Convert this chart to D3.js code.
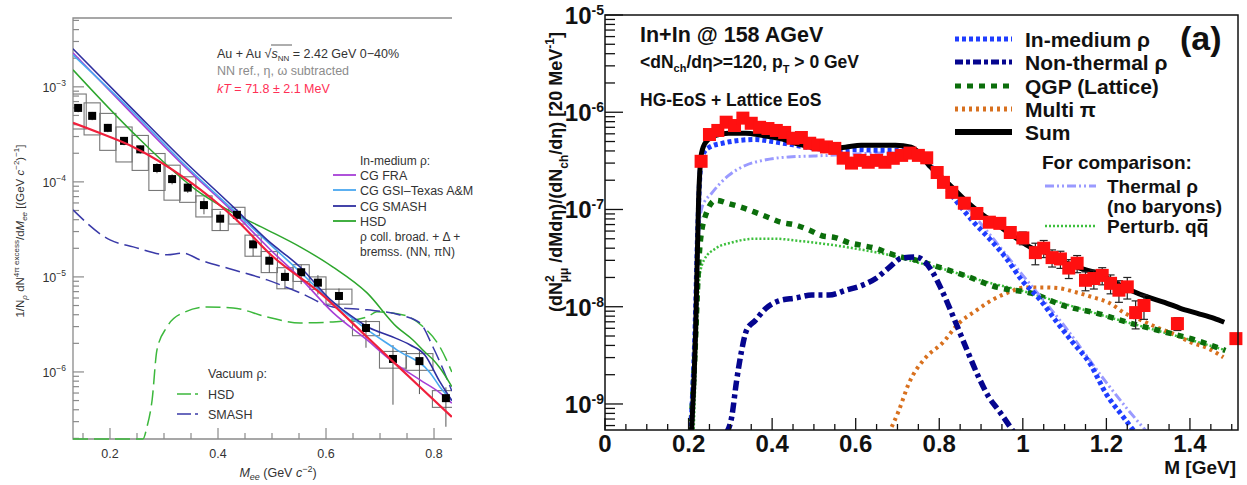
<!DOCTYPE html>
<html><head><meta charset="utf-8">
<script src="https://cdn.jsdelivr.net/npm/d3@7"></script>
<style>body{margin:0;background:#fff}svg{display:block}text{font-family:"Liberation Sans",Arial,sans-serif}</style>
</head><body>
<svg id="c" width="1247" height="485"></svg>
<script>
// ================= LEFT PANEL DATA (HADES Au+Au) =================
const leftPtsM   = [0.141,0.167,0.196,0.226,0.256,0.287,0.315,0.344,0.374,0.404,0.435,0.465,0.495,0.524,0.554,0.585,0.624,0.674,0.724,0.773,0.822];
const leftPtsY   = [6.0e-4,4.95e-4,3.7e-4,2.7e-4,2.2e-4,1.4e-4,1.07e-4,8.7e-5,5.7e-5,4.1e-5,4.5e-5,2.2e-5,1.48e-5,1.0e-5,1.12e-5,8.7e-6,6.3e-6,2.9e-6,1.37e-6,1.3e-6,5.3e-7];
const leftSysRel = [0.4,0.37,0.42,0.4,0.4,0.42,0.4,0.3,0.25,0.25,0.2,0.25,0.25,0.25,0.2,0.15,0.18,0.17,0.2,0.2,0.2];
const leftBinHW  = [0.015,0.015,0.015,0.015,0.015,0.015,0.015,0.015,0.015,0.015,0.015,0.015,0.015,0.015,0.015,0.015,0.024,0.025,0.025,0.025,0.025];
const leftStatUp = [0.1,0.1,0.1,0.1,0.1,0.12,0.12,0.12,0.2,0.2,0.15,0.2,0.18,0.2,0.2,0.2,0.2,0.21,0.4,0.27,0.3];
const leftStatDn = [0.1,0.1,0.1,0.1,0.1,0.12,0.12,0.12,0.2,0.25,0.15,0.25,0.25,0.25,0.25,0.25,0.25,0.38,0.67,0.55,0.5];

const fitM   = [0.1315,0.18,0.243,0.343,0.428,0.502,0.589,0.676,0.774,0.833];
const fitY   = [4.18e-4,3.28e-4,2.33e-4,1.05e-4,4.29e-5,1.63e-5,6.79e-6,2.33e-6,6.95e-7,3.36e-7];
const fraM   = [0.1315,0.243,0.335,0.428,0.4975,0.552,0.6135,0.676,0.719,0.774,0.811,0.833];
const fraY   = [2.28e-3,5.07e-4,1.51e-4,4.83e-5,1.92e-5,9.77e-6,4.18e-6,2.17e-6,1.34e-6,8.24e-7,6.03e-7,4.7e-7];
const gsiM   = [0.1315,0.243,0.335,0.428,0.4975,0.552,0.607,0.669,0.731,0.793,0.811,0.833];
const gsiY   = [2.17e-3,5.37e-4,1.58e-4,5.07e-5,2.17e-5,1.13e-5,5.73e-6,2.98e-6,1.71e-6,9.77e-7,6.95e-7,5.0e-7];
const smashM = [0.1315,0.243,0.335,0.428,0.491,0.552,0.607,0.644,0.681,0.719,0.756,0.783,0.811,0.833];
const smashY = [2.51e-3,5.73e-4,1.71e-4,5.46e-5,2.45e-5,1.27e-5,5.86e-6,3.98e-6,2.9e-6,2.39e-6,1.92e-6,1.51e-6,7.85e-7,5.0e-7];
const hsdM   = [0.1315,0.243,0.367,0.428,0.491,0.552,0.613,0.676,0.731,0.761,0.783,0.798,0.811,0.833];
const hsdY   = [1.51e-3,3.28e-4,7.66e-5,4.72e-5,3.13e-5,2.07e-5,1.27e-5,6.79e-6,2.98e-6,2.17e-6,1.62e-6,1.35e-6,1.1e-6,7.0e-7];
const vacSmashM = [0.1315,0.2,0.243,0.3056,0.335,0.367,0.428,0.491,0.552,0.613,0.676,0.737,0.774,0.798,0.811,0.833];
const vacSmashY = [5.07e-5,2.45e-5,2.07e-5,1.71e-5,1.78e-5,1.51e-5,1.19e-5,9.3e-6,6.79e-6,4.83e-6,4.5e-6,3.98e-6,3.28e-6,1.83e-6,1.27e-6,6.3e-7];
const vacHsdM = [0.1315,0.255,0.261,0.2685,0.278,0.287,0.3056,0.335,0.38,0.428,0.491,0.552,0.613,0.676,0.694,0.743,0.78,0.811,0.833];
const vacHsdY = [1e-7,1e-7,1.97e-7,2.64e-7,5.07e-7,1.71e-6,2.98e-6,4.18e-6,4.83e-6,4.72e-6,3.79e-6,3.28e-6,3.36e-6,3.79e-6,4.29e-6,3.98e-6,2.98e-6,1.83e-6,1.0e-6];
const leftTicksX = [0.2,0.4,0.6,0.8];
const leftTickLabelsX = ["0.2","0.4","0.6","0.8"];
const leftDecades = [-6,-5,-4,-3];

// ================= RIGHT PANEL DATA (In+In NA60) =================
const dataM = [0.23,0.25,0.27,0.29,0.31,0.33,0.35,0.37,0.39,0.41,0.43,0.45,0.47,0.49,0.51,0.53,0.55,0.57,0.59,0.61,0.63,0.65,0.67,0.69,0.71,0.73,0.75,0.77,0.795,0.81,0.83,0.86,0.89,0.92,0.945,0.97,1.0,1.03,1.05,1.07,1.09,1.11,1.13,1.15,1.17,1.19,1.21,1.23,1.25,1.27,1.29,1.37,1.51];
const dataY = [3.13e-7,5.9e-7,6.5e-7,7.9e-7,7.3e-7,8.7e-7,7.7e-7,7.0e-7,6.8e-7,6.5e-7,6.2e-7,5.4e-7,5.5e-7,4.8e-7,4.6e-7,4.4e-7,4.25e-7,3.37e-7,3.0e-7,3.2e-7,3.06e-7,3.2e-7,3.06e-7,3.36e-7,3.6e-7,3.8e-7,3.6e-7,3.4e-7,2.4e-7,1.9e-7,1.5e-7,1.16e-7,9.1e-8,7.4e-8,7.2e-8,5.8e-8,5.1e-8,3.6e-8,4.0e-8,3.2e-8,3.1e-8,2.5e-8,2.8e-8,1.87e-8,1.95e-8,2.1e-8,1.74e-8,1.48e-8,1.6e-8,8.7e-9,1.03e-8,6.7e-9,4.7e-9];
const dataErrRel = [0.03,0.03,0.03,0.03,0.03,0.03,0.03,0.03,0.03,0.03,0.03,0.03,0.03,0.03,0.03,0.03,0.03,0.03,0.03,0.03,0.03,0.03,0.03,0.03,0.03,0.03,0.03,0.03,0.03,0.04,0.04,0.05,0.06,0.08,0.1,0.12,0.15,0.25,0.2,0.2,0.2,0.22,0.2,0.22,0.22,0.2,0.22,0.25,0.25,0.32,0.28,0.15,0.12];

const sumM = [0.207,0.217,0.224,0.231,0.241,0.265,0.296,0.337,0.375,0.415,0.456,0.494,0.535,0.575,0.613,0.654,0.695,0.733,0.78,0.821,0.862,0.90,0.94,0.981,1.019,1.06,1.10,1.138,1.179,1.22,1.258,1.298,1.339,1.377,1.418,1.458,1.482];
const sumY = [5e-10,5.71e-9,1.245e-7,3.78e-7,4.91e-7,5.79e-7,6.08e-7,6.08e-7,5.79e-7,5.41e-7,4.8e-7,4.37e-7,4.27e-7,4.37e-7,4.57e-7,4.57e-7,4.57e-7,4.37e-7,2.72e-7,1.86e-7,1.245e-7,9.12e-8,6.92e-8,5.18e-8,4.07e-8,3.55e-8,2.86e-8,2.48e-8,2.21e-8,1.78e-8,1.48e-8,1.26e-8,1.11e-8,9.64e-9,8.55e-9,7.59e-9,6.92e-9];
const inmedM = [0.205,0.215,0.222,0.228,0.236,0.25,0.28,0.32,0.36,0.40,0.45,0.50,0.55,0.60,0.65,0.70,0.74,0.77,0.80,0.84,0.88,0.92,0.96,1.0,1.04,1.08,1.12,1.16,1.20,1.24,1.27];
const inmedY = [5e-10,5.0e-9,6.3e-8,2.51e-7,3.8e-7,4.37e-7,4.79e-7,5.13e-7,5.25e-7,5.01e-7,4.62e-7,4.27e-7,4.07e-7,4.12e-7,4.07e-7,4.07e-7,3.72e-7,3.16e-7,2.09e-7,1.23e-7,7.59e-8,5.01e-8,3.16e-8,1.82e-8,1.2e-8,7.08e-9,4.27e-9,2.63e-9,1.26e-9,7.4e-10,5e-10];
const nonthM = [0.29,0.303,0.315,0.327,0.339,0.36,0.384,0.416,0.456,0.495,0.536,0.577,0.615,0.648,0.679,0.71,0.745,0.782,0.806,0.84,0.864,0.895,0.919,0.943,0.98];
const nonthY = [5e-10,7.24e-10,1.74e-9,3.55e-9,5.75e-9,7.24e-9,9.55e-9,1.15e-8,1.23e-8,1.32e-8,1.32e-8,1.48e-8,1.66e-8,1.95e-8,2.51e-8,3.16e-8,3.24e-8,2.34e-8,1.48e-8,6.76e-9,3.8e-9,1.86e-9,1.17e-9,8.5e-10,5e-10];
const qgpM = [0.205,0.215,0.225,0.237,0.265,0.296,0.327,0.36,0.39,0.42,0.456,0.488,0.519,0.551,0.583,0.615,0.648,0.679,0.71,0.744,0.782,0.862,0.94,1.02,1.10,1.18,1.258,1.34,1.418,1.485];
const qgpY = [5e-10,3.16e-9,3.16e-8,7.76e-8,1.245e-7,1.15e-7,1.05e-7,9.33e-8,8.32e-8,7.41e-8,6.92e-8,6.17e-8,5.37e-8,5.13e-8,4.57e-8,4.27e-8,3.98e-8,3.55e-8,3.24e-8,3.02e-8,2.69e-8,2.09e-8,1.58e-8,1.38e-8,1.02e-8,8.51e-9,6.76e-9,5.5e-9,4.47e-9,3.55e-9];
const multiM = [0.679,0.703,0.727,0.768,0.806,0.847,0.888,0.926,0.967,1.007,1.046,1.086,1.127,1.165,1.206,1.246,1.284,1.325,1.366,1.404,1.444,1.48];
const multiY = [5e-10,8.5e-10,1.62e-9,3.02e-9,4.17e-9,6.76e-9,9.12e-9,1.17e-8,1.41e-8,1.58e-8,1.58e-8,1.55e-8,1.41e-8,1.26e-8,1.1e-8,8.51e-9,7.24e-9,6.03e-9,5.13e-9,4.27e-9,3.72e-9,3.02e-9];
const thermM = [0.207,0.215,0.222,0.232,0.256,0.296,0.337,0.385,0.44,0.50,0.55,0.60,0.65,0.70,0.74,0.80,0.90,1.0,1.1,1.2,1.25,1.3];
const thermY = [5e-10,5e-9,4e-8,1.05e-7,1.48e-7,2.24e-7,2.85e-7,3.24e-7,3.47e-7,3.55e-7,3.63e-7,3.72e-7,3.8e-7,3.8e-7,3.5e-7,2.2e-7,7.1e-8,2.1e-8,6.3e-9,1.66e-9,8.9e-10,5e-10];
const pertM = [0.212,0.218,0.222,0.226,0.237,0.265,0.303,0.36,0.408,0.456,0.519,0.583,0.648,0.703,0.744,0.8,0.9,1.0,1.1,1.2,1.3,1.4,1.48];
const pertY = [5e-10,3e-9,1.0e-8,2.0e-8,3.02e-8,3.98e-8,4.57e-8,5.01e-8,5.01e-8,4.79e-8,4.47e-8,4.07e-8,3.63e-8,3.24e-8,2.88e-8,2.51e-8,1.86e-8,1.45e-8,1.07e-8,7.94e-9,6.03e-9,4.57e-9,3.63e-9];
const rightTicksX = [0,0.2,0.4,0.6,0.8,1,1.2,1.4];
const rightTickLabelsX = ["0","0.2","0.4","0.6","0.8","1","1.2","1.4"];
const rightDecades = [-9,-8,-7,-6,-5];

// ================= DRAW =================
const svg = d3.select("#c");
const zip = (a,b)=>a.map((v,i)=>[v,b[i]]);

// ---------- LEFT ----------
const LX0=73, LX1=452, LY0=18, LY1=439;
const lx = d3.scaleLinear().domain([0.1315,0.8333]).range([LX0,LX1]);
const ly = d3.scaleLog().domain([1.97e-7,5.3e-3]).range([LY1,LY0]);
const gL = svg.append("g");
gL.append("clipPath").attr("id","clipL").append("rect").attr("x",LX0).attr("y",LY0).attr("width",LX1-LX0).attr("height",LY1-LY0+2);
const frameCol="#8a8a8a", txtCol="#333";

gL.append("path").attr("d",`M${LX1},${LY0}H${LX0}V${LY1}H${LX1}`).attr("fill","none").attr("stroke",frameCol).attr("stroke-width",1.3);
const lxt=[]; for(let k=3;k<=16;k++) lxt.push(k*0.05);
lxt.forEach(v=>{ if(v<0.1315||v>0.8333) return;
  const major = leftTicksX.some(t=>Math.abs(t-v)<1e-6);
  gL.append("line").attr("x1",lx(v)).attr("x2",lx(v)).attr("y1",LY1).attr("y2",LY1-(major?11:6)).attr("stroke",frameCol).attr("stroke-width",1.2);
});
leftTicksX.forEach((v,i)=>gL.append("text").attr("x",lx(v)).attr("y",458).attr("text-anchor","middle")
  .attr("font-size",12.5).attr("fill",txtCol).text(leftTickLabelsX[i]));
for(let e=-7;e<=-3;e++) for(let k=1;k<=9;k++){
  const v=k*Math.pow(10,e); if(v<1.97e-7||v>5.3e-3) continue;
  gL.append("line").attr("x1",LX0).attr("x2",LX0+(k===1?11:6)).attr("y1",ly(v)).attr("y2",ly(v)).attr("stroke",frameCol).attr("stroke-width",1.2);
}
leftDecades.forEach(e=>{
  const t=gL.append("text").attr("x",66).attr("y",ly(Math.pow(10,e))+5).attr("text-anchor","end").attr("font-size",12.5).attr("fill",txtCol);
  t.append("tspan").text("10");
  t.append("tspan").attr("dy",-6).attr("font-size",8.5).text("\u2212"+(-e));
});

const pL = gL.append("g").attr("clip-path","url(#clipL)");
leftPtsM.forEach((m,i)=>{
  const y=leftPtsY[i], s=leftSysRel[i], hw=leftBinHW[i];
  pL.append("rect").attr("x",lx(m-hw)).attr("y",ly(y*(1+s))).attr("width",lx(m+hw)-lx(m-hw))
    .attr("height",ly(y*(1-s))-ly(y*(1+s))).attr("fill","none").attr("stroke","#777").attr("stroke-width",1.1);
  pL.append("line").attr("x1",lx(m)).attr("x2",lx(m)).attr("y1",ly(y*(1+leftStatUp[i]))).attr("y2",ly(y*(1-leftStatDn[i])))
    .attr("stroke","#555").attr("stroke-width",1);
});
const lineL = d3.line().x(d=>lx(d[0])).y(d=>Math.min(ly(d[1]),LY1)).curve(d3.curveMonotoneX);
const lcurves = [
  {m:vacHsdM,y:vacHsdY,c:"#3cb83c",w:1.5,dash:"15,6"},
  {m:vacSmashM,y:vacSmashY,c:"#3a3aa8",w:1.5,dash:"15,6"},
  {m:hsdM,y:hsdY,c:"#2da62d",w:1.5},
  {m:fraM,y:fraY,c:"#a63fd6",w:1.6},
  {m:gsiM,y:gsiY,c:"#4aa8f0",w:1.6},
  {m:smashM,y:smashY,c:"#2f2fa0",w:1.6},
];
lcurves.forEach(c=>pL.append("path").attr("d",lineL(zip(c.m,c.y))).attr("fill","none").attr("stroke",c.c)
  .attr("stroke-width",c.w).attr("stroke-dasharray",c.dash||null));
pL.selectAll(".sq").data(zip(leftPtsM,leftPtsY)).enter().append("rect")
  .attr("x",d=>lx(d[0])-4).attr("y",d=>ly(d[1])-4).attr("width",8).attr("height",8).attr("fill","#000");
pL.append("path").attr("d",lineL(zip(fitM,fitY))).attr("fill","none").attr("stroke","#f0203c").attr("stroke-width",2.2);

const ytl = gL.append("text").attr("transform","translate(24,231) rotate(-90)").attr("text-anchor","middle").attr("font-size",11.5).attr("fill",txtCol);
ytl.append("tspan").text("1/N");
ytl.append("tspan").attr("dy",3).attr("font-size",8).attr("font-style","italic").text("\u03C1");
ytl.append("tspan").attr("dy",-3).text(" dN");
ytl.append("tspan").attr("dy",-5).attr("font-size",8).text("4\u03C0 excess");
ytl.append("tspan").attr("dy",5).text("/d");
ytl.append("tspan").attr("font-style","italic").text("M");
ytl.append("tspan").attr("dy",3).attr("font-size",8).attr("font-style","italic").text("ee");
ytl.append("tspan").attr("dy",-3).text(" [(GeV ");
ytl.append("tspan").attr("font-style","italic").text("c");
ytl.append("tspan").attr("dy",-5).attr("font-size",8).text("\u22122");
ytl.append("tspan").attr("dy",5).text(")");
ytl.append("tspan").attr("dy",-5).attr("font-size",8).text("\u22121");
ytl.append("tspan").attr("dy",5).text("]");
const xtl = gL.append("text").attr("x",278).attr("y",477).attr("text-anchor","middle").attr("font-size",12.5).attr("fill",txtCol);
xtl.append("tspan").attr("font-style","italic").text("M");
xtl.append("tspan").attr("dy",3).attr("font-size",9).attr("font-style","italic").text("ee");
xtl.append("tspan").attr("dy",-3).text(" (GeV ");
xtl.append("tspan").attr("font-style","italic").text("c");
xtl.append("tspan").attr("dy",-5).attr("font-size",9).text("\u22122");
xtl.append("tspan").attr("dy",5).text(")");
const a1 = gL.append("text").attr("x",217).attr("y",58).attr("font-size",12.5).attr("fill",txtCol);
a1.append("tspan").text("Au + Au \u221A");
a1.append("tspan").attr("font-style","italic").text("s");
a1.append("tspan").attr("dy",3).attr("font-size",8).text("NN");
a1.append("tspan").attr("dy",-3).text(" = 2.42 GeV 0\u221240%");
gL.append("line").attr("x1",271).attr("x2",292).attr("y1",45).attr("y2",45).attr("stroke",txtCol).attr("stroke-width",0.8);
gL.append("text").attr("x",217).attr("y",75).attr("font-size",12.5).attr("fill","#8c8c8c").text("NN ref., \u03B7, \u03C9 subtracted");
const a3 = gL.append("text").attr("x",217).attr("y",93).attr("font-size",12.5).attr("fill","#ff2f55");
a3.append("tspan").attr("font-style","italic").text("kT");
a3.append("tspan").text(" = 71.8 \u00B1 2.1 MeV");
const legL = [
  {t:"CG FRA",c:"#a63fd6",y:175},
  {t:"CG GSI\u2013Texas A&M",c:"#4aa8f0",y:190},
  {t:"CG SMASH",c:"#2f2fa0",y:206},
  {t:"HSD",c:"#2da62d",y:221},
];
gL.append("text").attr("x",360).attr("y",165).attr("font-size",12).attr("fill",txtCol).text("In-medium \u03C1:");
legL.forEach(d=>{
  gL.append("line").attr("x1",333).attr("x2",356).attr("y1",d.y).attr("y2",d.y).attr("stroke",d.c).attr("stroke-width",1.8);
  gL.append("text").attr("x",360).attr("y",d.y+4.5).attr("font-size",12.5).attr("fill",txtCol).text(d.t);
});
gL.append("text").attr("x",360).attr("y",241).attr("font-size",12).attr("fill",txtCol).text("\u03C1 coll. broad. + \u0394 +");
gL.append("text").attr("x",360).attr("y",256).attr("font-size",12).attr("fill",txtCol).text("bremss. (NN, \u03C0N)");
gL.append("text").attr("x",208).attr("y",378).attr("font-size",12.5).attr("fill",txtCol).text("Vacuum \u03C1:");
[{t:"HSD",c:"#3cb83c",y:394},{t:"SMASH",c:"#3a3aa8",y:414}].forEach(d=>{
  gL.append("line").attr("x1",177).attr("x2",202).attr("y1",d.y).attr("y2",d.y).attr("stroke",d.c).attr("stroke-width",1.5).attr("stroke-dasharray","14,4,3,4");
  gL.append("text").attr("x",208).attr("y",d.y+4.5).attr("font-size",12.5).attr("fill",txtCol).text(d.t);
});

// ---------- RIGHT ----------
const RX0=605, RX1=1238, RY0=15, RY1=430;
const rx = d3.scaleLinear().domain([0,1.515]).range([RX0,RX1]);
const ry = d3.scaleLog().domain([5.4e-10,1e-5]).range([RY1,RY0]);
const gR = svg.append("g");
gR.append("clipPath").attr("id","clipR").append("rect").attr("x",RX0).attr("y",RY0).attr("width",RX1-RX0).attr("height",RY1-RY0);
const pR = gR.append("g").attr("clip-path","url(#clipR)");
const lineR = d3.line().x(d=>rx(d[0])).y(d=>Math.min(ry(d[1]),RY1+5)).curve(d3.curveMonotoneX);
const rcurves = [
  {m:pertM,y:pertY,c:"#3cbf3c",w:2.5,dash:"2,2"},
  {m:multiM,y:multiY,c:"#d8701e",w:4,dash:"3,4"},
  {m:qgpM,y:qgpY,c:"#0b6e0b",w:5.5,dash:"6,6"},
  {m:nonthM,y:nonthY,c:"#05058f",w:5.5,dash:"10,4,4,4"},
  {m:thermM,y:thermY,c:"#9a9aff",w:3,dash:"9,3,2,3,2,3"},
  {m:inmedM,y:inmedY,c:"#1f3dff",w:5,dash:"4,3"},
  {m:sumM,y:sumY,c:"#000",w:5},
];
rcurves.forEach(c=>pR.append("path").attr("d",lineR(zip(c.m,c.y))).attr("fill","none").attr("stroke",c.c)
  .attr("stroke-width",c.w).attr("stroke-dasharray",c.dash||null));
const gD = gR.append("g");
dataM.forEach((m,i)=>{
  const y=dataY[i], e=dataErrRel[i];
  const yt=ry(y*(1+e)), yb=ry(y*(1-e));
  gD.append("line").attr("x1",rx(m)).attr("x2",rx(m)).attr("y1",yt).attr("y2",yb).attr("stroke","#222").attr("stroke-width",1.2);
  gD.append("line").attr("x1",rx(m)-4).attr("x2",rx(m)+4).attr("y1",yt).attr("y2",yt).attr("stroke","#222").attr("stroke-width",1.2);
  gD.append("line").attr("x1",rx(m)-4).attr("x2",rx(m)+4).attr("y1",yb).attr("y2",yb).attr("stroke","#222").attr("stroke-width",1.2);
});
gD.selectAll(".dp").data(zip(dataM,dataY)).enter().append("rect")
  .attr("x",d=>rx(d[0])-6.5).attr("y",d=>ry(d[1])-6.5).attr("width",13).attr("height",13).attr("fill","#ff1010");
gR.append("rect").attr("x",RX0).attr("y",RY0).attr("width",RX1-RX0).attr("height",RY1-RY0).attr("fill","none").attr("stroke","#111").attr("stroke-width",1.5);
for(let k=0;k<=30;k++){ const v=k*0.05; if(v>1.515) break;
  const major = rightTicksX.some(t=>Math.abs(t-v)<1e-6);
  gR.append("line").attr("x1",rx(v)).attr("x2",rx(v)).attr("y1",RY1).attr("y2",RY1-(major?12:6)).attr("stroke","#111").attr("stroke-width",1.3);
}
rightTicksX.forEach((v,i)=>gR.append("text").attr("x",rx(v)).attr("y",452).attr("text-anchor","middle")
  .attr("font-size",24).attr("font-weight","bold").attr("fill","#111").text(rightTickLabelsX[i]));
for(let e=-10;e<=-5;e++) for(let k=1;k<=9;k++){
  const v=k*Math.pow(10,e); if(v<5.4e-10||v>1.0001e-5) continue;
  gR.append("line").attr("x1",RX0).attr("x2",RX0+(k===1?18:10)).attr("y1",ry(v)).attr("y2",ry(v)).attr("stroke","#111").attr("stroke-width",1.3);
}
rightDecades.forEach(e=>{
  const t=gR.append("text").attr("x",604).attr("y",ry(Math.pow(10,e))+9).attr("text-anchor","end").attr("font-size",24).attr("font-weight","bold").attr("fill","#111");
  t.append("tspan").text("10");
  t.append("tspan").attr("dy",-9).attr("font-size",14).text("-"+(-e));
});
const ytr = gR.append("text").attr("transform","translate(562,172) rotate(-90)").attr("text-anchor","middle").attr("font-size",18).attr("font-weight","bold").attr("fill","#111");
ytr.append("tspan").text("(dN");
ytr.append("tspan").attr("dy",-8).attr("font-size",12).text("2");
ytr.append("tspan").attr("dy",14).attr("dx",-7).attr("font-size",12).text("\u03BC\u03BC");
ytr.append("tspan").attr("dy",-6).text(" /dMd\u03B7)/(dN");
ytr.append("tspan").attr("dy",6).attr("font-size",12).text("ch");
ytr.append("tspan").attr("dy",-6).text("/d\u03B7) [20 MeV");
ytr.append("tspan").attr("dy",-8).attr("font-size",12).text("-1");
ytr.append("tspan").attr("dy",8).text("]");
gR.append("text").attr("x",1236).attr("y",474).attr("text-anchor","end").attr("font-size",19).attr("font-weight","bold").attr("fill","#111").text("M [GeV]");
gR.append("text").attr("x",640).attr("y",42).attr("font-size",21.5).attr("font-weight","bold").attr("fill","#111").text("In+In @ 158 AGeV");
const s2 = gR.append("text").attr("x",640).attr("y",68).attr("font-size",17.5).attr("font-weight","bold").attr("fill","#111");
s2.append("tspan").text("<dN");
s2.append("tspan").attr("dy",4).attr("font-size",11).text("ch");
s2.append("tspan").attr("dy",-4).text("/d\u03B7>=120, p");
s2.append("tspan").attr("dy",5).attr("font-size",11).text("T");
s2.append("tspan").attr("dy",-5).text(" > 0 GeV");
gR.append("text").attr("x",640).attr("y",106).attr("font-size",17.5).attr("font-weight","bold").attr("fill","#111").text("HG-EoS + Lattice EoS");
gR.append("text").attr("x",1180).attr("y",50).attr("font-size",34).attr("font-weight","bold").attr("fill","#111").text("(a)");
const legR = [
  {t:"In-medium \u03C1",c:"#1f3dff",w:5,dash:"4,3",y:39},
  {t:"Non-thermal \u03C1",c:"#05058f",w:5,dash:"8,3,4,3",y:62},
  {t:"QGP (Lattice)",c:"#0b6e0b",w:5,dash:"6,6",y:86},
  {t:"Multi \u03C0",c:"#d8701e",w:5,dash:"3,4",y:109},
  {t:"Sum",c:"#000",w:6,dash:null,y:132},
];
legR.forEach(d=>{
  gR.append("line").attr("x1",955).attr("x2",1012).attr("y1",d.y).attr("y2",d.y).attr("stroke",d.c).attr("stroke-width",d.w).attr("stroke-dasharray",d.dash);
  gR.append("text").attr("x",1025).attr("y",d.y+7.5).attr("font-size",21).attr("font-weight","bold").attr("fill","#111").text(d.t);
});
gR.append("text").attr("x",1042).attr("y",169).attr("font-size",19).attr("font-weight","bold").attr("fill","#111").text("For comparison:");
gR.append("line").attr("x1",1045).attr("x2",1096).attr("y1",186).attr("y2",186).attr("stroke","#9a9aff").attr("stroke-width",3).attr("stroke-dasharray","9,3,2,3,2,3");
gR.append("text").attr("x",1107).attr("y",193).attr("font-size",19).attr("font-weight","bold").attr("fill","#111").text("Thermal  \u03C1");
gR.append("text").attr("x",1107).attr("y",213).attr("font-size",19).attr("font-weight","bold").attr("fill","#111").text("(no baryons)");
gR.append("line").attr("x1",1045).attr("x2",1096).attr("y1",226).attr("y2",226).attr("stroke","#3cbf3c").attr("stroke-width",2.5).attr("stroke-dasharray","2,2");
const pq = gR.append("text").attr("x",1107).attr("y",233).attr("font-size",19).attr("font-weight","bold").attr("fill","#111").text("Perturb. qq");
const pqW = pq.node().getComputedTextLength();
const qW = pq.node().getSubStringLength(10,1);
gR.append("line").attr("x1",1107+pqW-qW+1).attr("x2",1107+pqW-1).attr("y1",220).attr("y2",220).attr("stroke","#111").attr("stroke-width",2);
</script>
</body></html>
